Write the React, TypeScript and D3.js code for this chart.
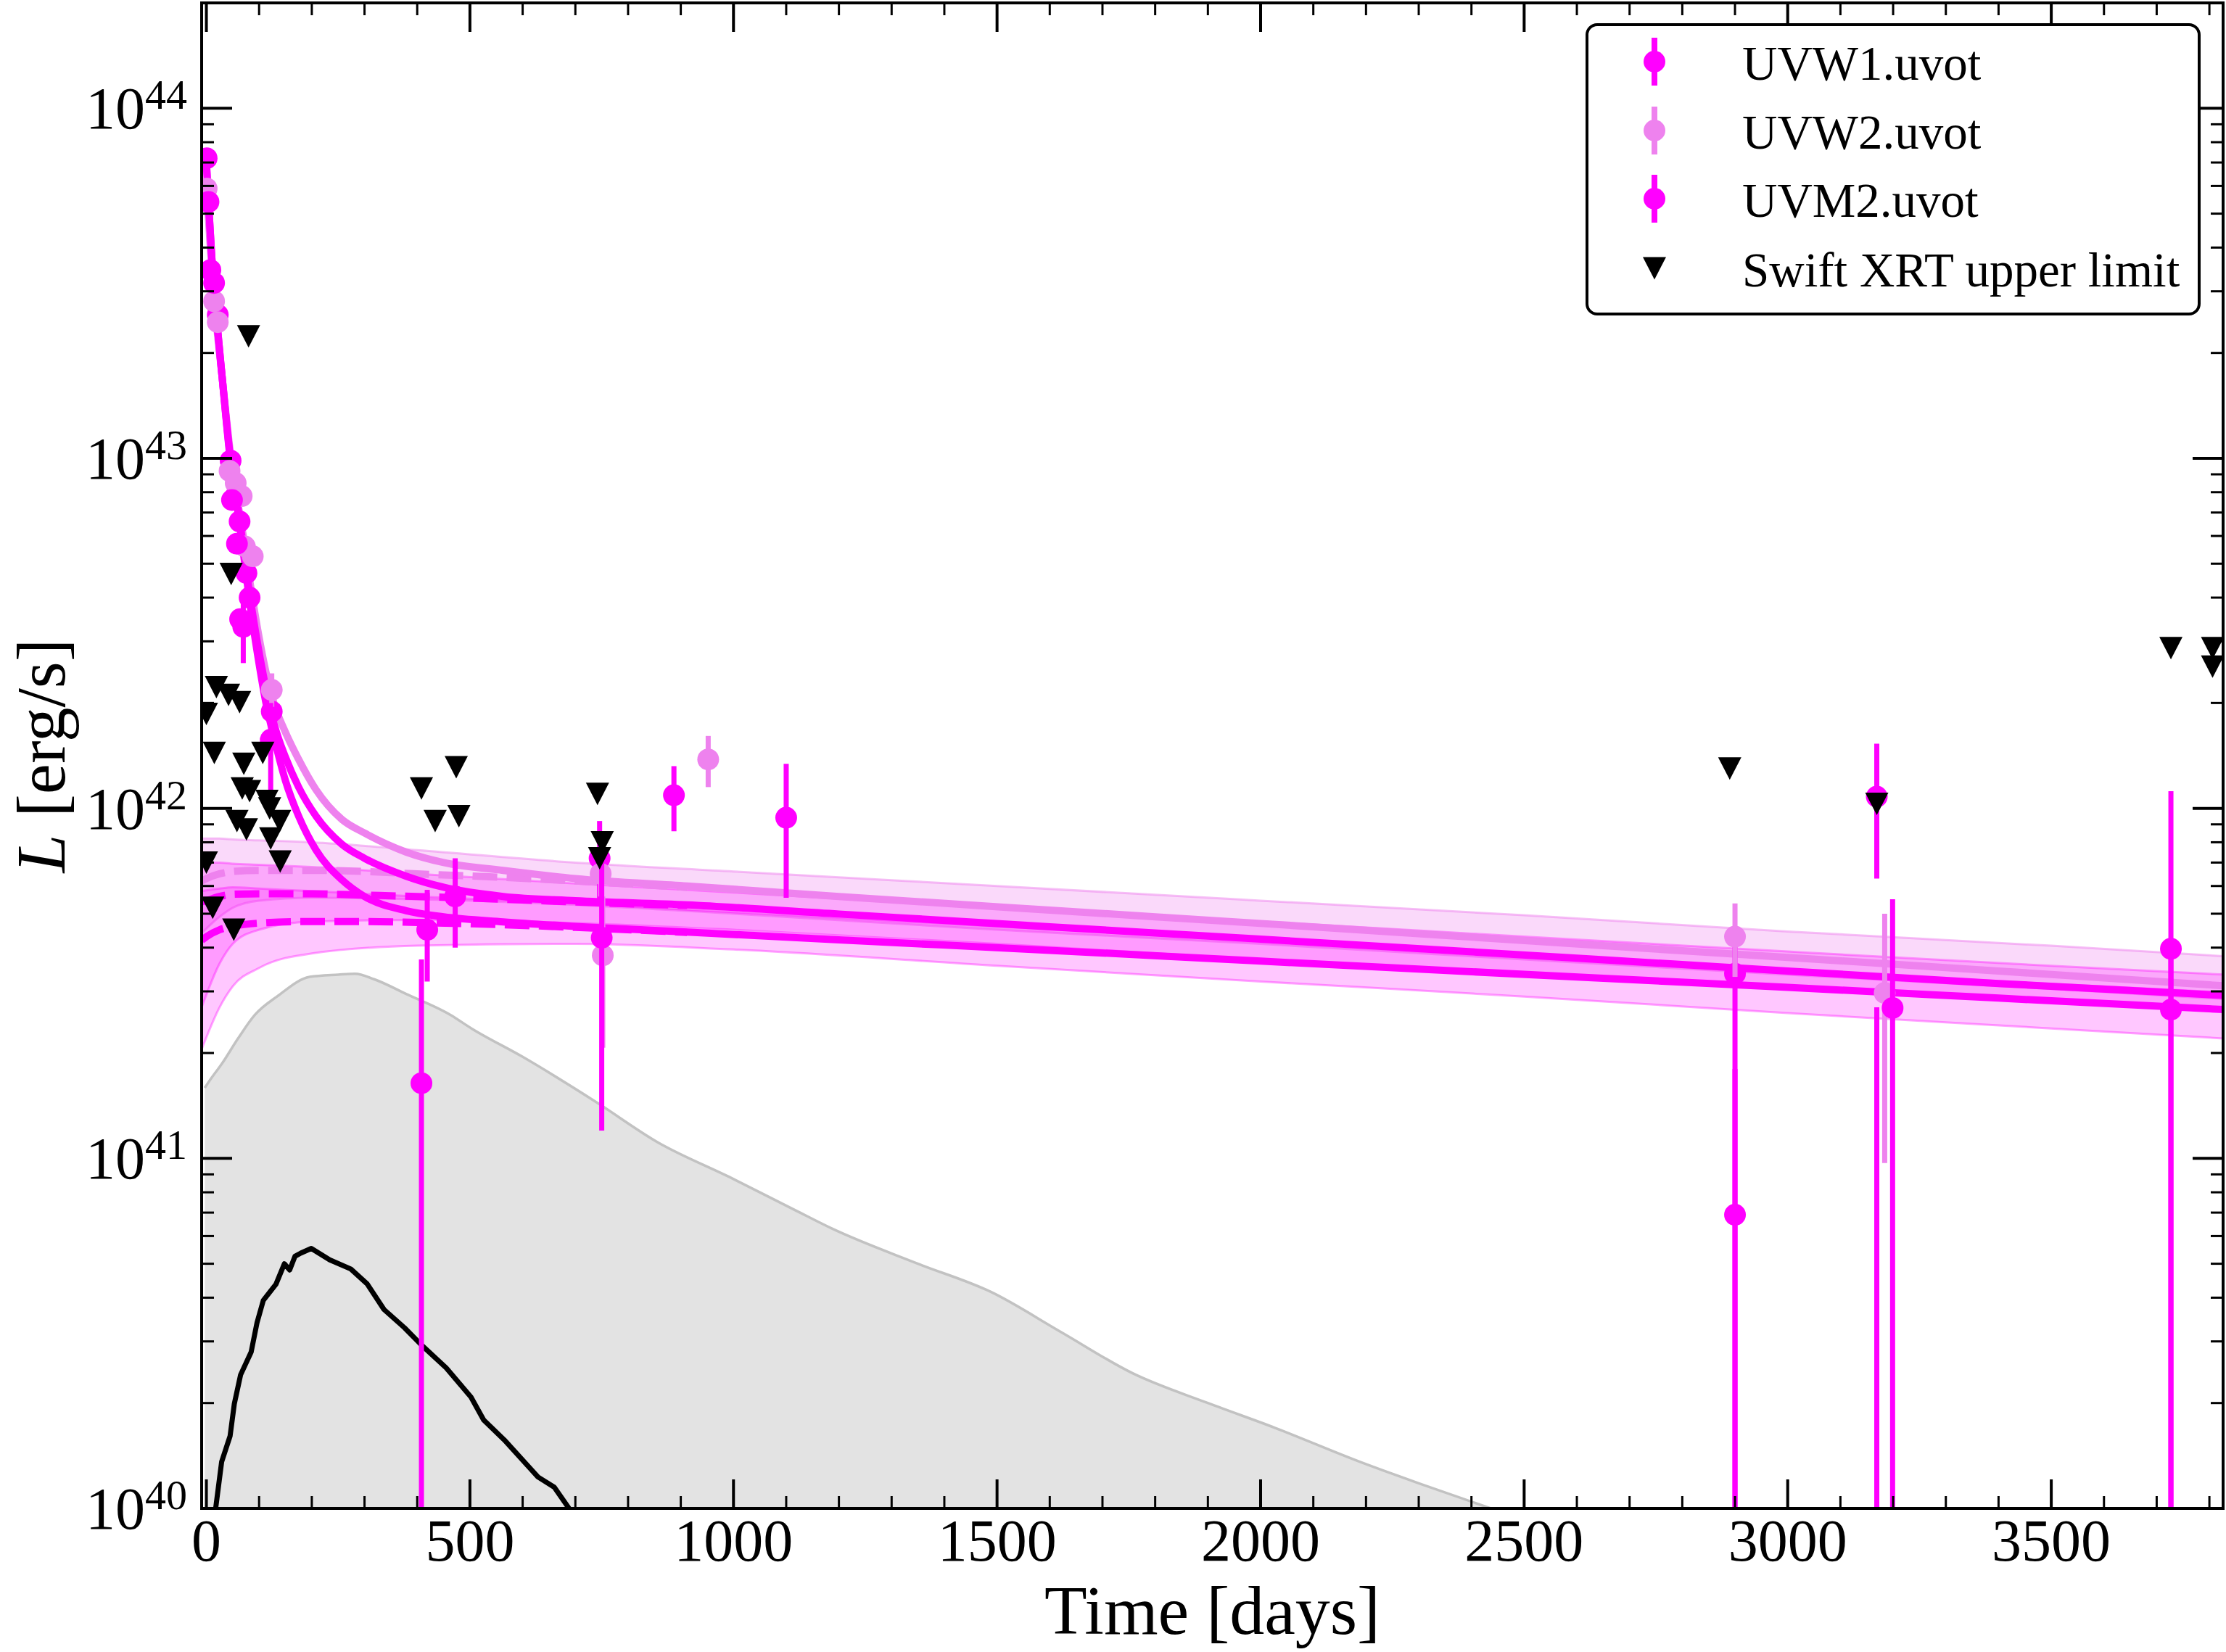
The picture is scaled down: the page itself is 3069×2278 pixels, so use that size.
import React from 'react';
import * as d3 from 'd3';

// ---------------- data ----------------
const xTickValues = [0, 500, 1000, 1500, 2000, 2500, 3000, 3500];
const yTickExponents = [40, 41, 42, 43, 44];

// UVW1 (magenta)
const uvw1T = [0.5, 7.6, 21.6, 46, 55.6, 63, 76, 70, 124, 408, 472, 746, 887, 1100, 2900, 3169, 3727];
const uvw1L = [7.2e43, 3.45e43, 2.57e43, 9.85e42, 7.8e42, 6.6e42, 4.7e42, 3.3e42, 1.89e42, 1.64e41, 5.6e41, 7.2e41, 1.09e42, 9.4e41, 3.37e41, 1.08e42, 3.97e41];
const uvw1Lo = [6.9e43, 3.3e43, 2.45e43, 9.4e42, 7.4e42, 6.3e42, 4.5e42, 2.6e42, 1.8e42, 1e39, 4.0e41, 5.3e41, 8.6e41, 5.55e41, 1e39, 6.3e41, 1e39];
const uvw1Hi = [7.5e43, 3.6e43, 2.7e43, 1.03e43, 8.2e42, 6.9e42, 4.9e42, 4.0e42, 1.98e42, 3.7e41, 7.2e41, 9.2e41, 1.32e42, 1.34e42, 4.6e41, 1.53e42, 1.12e42];

// UVW2 (violet)
const uvw2T = [0.5, 14.6, 21.6, 44, 55.6, 67, 73, 88, 124, 748, 752, 952, 2900, 3184];
const uvw2L = [5.9e43, 2.81e43, 2.45e43, 9.2e42, 8.5e42, 7.8e42, 5.6e42, 5.25e42, 2.18e42, 6.5e41, 3.8e41, 1.38e42, 4.3e41, 2.97e41];
const uvw2Lo = [5.6e43, 2.7e43, 2.35e43, 8.8e42, 8.1e42, 7.4e42, 5.3e42, 5.0e42, 1.95e42, 5.6e41, 2.07e41, 1.15e42, 3.3e41, 9.7e40];
const uvw2Hi = [6.2e43, 2.95e43, 2.55e43, 9.6e42, 8.9e42, 8.2e42, 5.9e42, 5.5e42, 2.43e42, 7.5e41, 5.6e41, 1.61e42, 5.35e41, 5.0e41];

// UVM2 (magenta)
const uvm2T = [4, 14.6, 48.6, 58, 64, 82, 122, 419, 750, 2900, 3169, 3199, 3727];
const uvm2L = [5.4e43, 3.17e43, 7.6e42, 5.7e42, 3.47e42, 4.0e42, 1.57e42, 4.5e41, 4.27e41, 6.9e40, 5e39, 2.69e41, 2.66e41];
const uvm2Lo = [5.2e43, 3.05e43, 7.3e42, 5.5e42, 3.3e42, 3.8e42, 1.13e42, 3.2e41, 1.2e41, 1e39, 1e39, 1e39, 1e39];
const uvm2Hi = [5.6e43, 3.3e43, 7.9e42, 5.9e42, 3.65e42, 4.2e42, 2.0e42, 5.85e41, 7.4e41, 1.8e41, 2.7e41, 5.5e41, 4.0e41];

// Swift XRT upper limits
const xrtT = [80, 47, 19, 42, 63, 0, 15, 107, 71, 68, 82, 115, 120, 58, 76, 139, 122, 140, 0, 12, 52, 408, 474, 434, 479, 742, 751, 746, 2890, 3169, 3727, 3806, 3806];
const xrtL = [2.23e43, 4.67e42, 2.22e42, 2.11e42, 2.01e42, 1.86e42, 1.44e42, 1.44e42, 1.34e42, 1.14e42, 1.12e42, 1.05e42, 1.0e42, 9.2e41, 8.7e41, 9.2e41, 8.2e41, 7.05e41, 7.0e41, 5.2e41, 4.5e41, 1.14e42, 1.31e42, 9.2e41, 9.5e41, 1.1e42, 8.0e41, 7.2e41, 1.3e42, 1.03e42, 2.87e42, 2.87e42, 2.54e42];

// model: total (solid)
const modelT = [0, 5, 10, 20, 30, 45, 60, 70, 82, 98, 113, 128, 150, 175, 208, 257, 300, 379, 450, 563, 700, 912, 1200, 1600, 2000, 2629, 3000, 3400, 3830];
const uvw2Total = [6.0e43, 4.6e43, 3.5e43, 2.35e43, 1.7e43, 1.05e43, 7.4e42, 6.0e42, 4.5e42, 3.2e42, 2.45e42, 2.0e42, 1.65e42, 1.38e42, 1.13e42, 9.3e41, 8.5e41, 7.5e41, 7.0e41, 6.65e41, 6.3e41, 6.0e41, 5.6e41, 5.12e41, 4.69e41, 4.07e41, 3.75e41, 3.43e41, 3.11e41];
const uvw1Total = [7.0e43, 5.1e43, 3.8e43, 2.45e43, 1.7e43, 1.02e43, 7.2e42, 5.6e42, 4.1e42, 2.9e42, 2.2e42, 1.75e42, 1.4e42, 1.15e42, 9.5e41, 7.9e41, 7.2e41, 6.4e41, 5.95e41, 5.6e41, 5.45e41, 5.3e41, 4.99e41, 4.59e41, 4.23e41, 3.71e41, 3.43e41, 3.16e41, 2.92e41];
const uvm2Total = [7.0e43, 5.1e43, 3.8e43, 2.45e43, 1.7e43, 1.0e43, 7.0e42, 5.4e42, 3.9e42, 2.7e42, 2.0e42, 1.6e42, 1.2e42, 9.5e41, 7.6e41, 6.25e41, 5.6e41, 5.1e41, 4.9e41, 4.74e41, 4.6e41, 4.43e41, 4.21e41, 3.93e41, 3.66e41, 3.28e41, 3.08e41, 2.87e41, 2.66e41];

// model: plateau component (dashed)
const plateauT = [-9, 0, 25, 50, 100, 200, 300, 400, 563, 700, 912];
const uvw2Plateau = [6.2e41, 6.3e41, 6.5e41, 6.6e41, 6.65e41, 6.65e41, 6.6e41, 6.5e41, 6.35e41, 6.2e41, 5.95e41];
const uvw1Plateau = [5.4e41, 5.45e41, 5.6e41, 5.68e41, 5.7e41, 5.7e41, 5.65e41, 5.6e41, 5.5e41, 5.4e41, 5.28e41];
const uvm2Plateau = [4.2e41, 4.3e41, 4.5e41, 4.6e41, 4.7e41, 4.75e41, 4.75e41, 4.72e41, 4.65e41, 4.57e41, 4.42e41];

// uncertainty bands
const bandT = [-9, 25, 50, 100, 200, 400, 700, 1000, 1500, 2000, 2500, 3000, 3500, 3830];
const uvw2BandHi = [8.2e41, 8.2e41, 8.15e41, 8.1e41, 8.0e41, 7.6e41, 7.0e41, 6.6e41, 6.0e41, 5.45e41, 4.95e41, 4.45e41, 4.05e41, 3.78e41];
const uvw2BandLo = [4.4e41, 4.9e41, 5.2e41, 5.45e41, 5.55e41, 5.5e41, 5.3e41, 5.0e41, 4.5e41, 4.1e41, 3.7e41, 3.35e41, 3.05e41, 2.85e41];
const uvw1BandHi = [7.0e41, 7.0e41, 6.95e41, 6.9e41, 6.8e41, 6.5e41, 6.1e41, 5.75e41, 5.2e41, 4.75e41, 4.3e41, 3.9e41, 3.55e41, 3.35e41];
const uvw1BandLo = [2.7e41, 3.6e41, 4.1e41, 4.5e41, 4.75e41, 4.8e41, 4.7e41, 4.5e41, 4.1e41, 3.7e41, 3.35e41, 3.05e41, 2.8e41, 2.65e41];
const uvm2BandHi = [5.8e41, 5.9e41, 5.95e41, 5.9e41, 5.8e41, 5.6e41, 5.35e41, 5.05e41, 4.6e41, 4.2e41, 3.8e41, 3.45e41, 3.15e41, 2.98e41];
const uvm2BandLo = [2.05e41, 2.7e41, 3.1e41, 3.5e41, 3.85e41, 4.05e41, 4.1e41, 3.95e41, 3.55e41, 3.2e41, 2.9e41, 2.6e41, 2.35e41, 2.2e41];

// grey shaded area
const greyT = [-3, 10, 29, 60, 92, 134, 196, 250, 282, 318, 379, 463, 503, 600, 739, 857, 992, 1118, 1187, 1350, 1489, 1620, 1758, 1900, 2027, 2188, 2300, 2437];
const greyL = [1.59e41, 1.7e41, 1.86e41, 2.2e41, 2.57e41, 2.9e41, 3.3e41, 3.35e41, 3.37e41, 3.25e41, 2.95e41, 2.57e41, 2.35e41, 1.95e41, 1.45e41, 1.11e41, 8.85e40, 7.1e40, 6.3e40, 5.0e40, 4.15e40, 3.2e40, 2.43e40, 2.0e40, 1.7e40, 1.36e40, 1.18e40, 1.0e40];

// black curve
const blackT = [17.6, 29, 45, 53, 65, 85, 96, 108, 132, 148, 158, 168, 179, 199, 234, 274, 305, 337, 376, 408, 455, 502, 526, 565, 629, 660, 688];
const blackL = [1.0e40, 1.36e40, 1.61e40, 1.99e40, 2.41e40, 2.8e40, 3.39e40, 3.93e40, 4.37e40, 5.0e40, 4.8e40, 5.25e40, 5.36e40, 5.53e40, 5.13e40, 4.83e40, 4.38e40, 3.7e40, 3.28e40, 2.93e40, 2.52e40, 2.08e40, 1.79e40, 1.57e40, 1.23e40, 1.15e40, 1.0e40];

const legendLabels = ['UVW1.uvot', 'UVW2.uvot', 'UVM2.uvot', 'Swift XRT upper limit'];

// ---------------- styling ----------------
const MAG = '#FF00FF';
const VIO = '#EE82EE';
const FONT = '"Liberation Serif", "Times New Roman", Times, serif';

const W = 3069, H = 2278;
const L = 278, R = 3065, T = 4, B = 2080;

const x = d3.scaleLinear().domain([-9, 3826]).range([L, R]);
const y = d3.scaleLog().domain([1e40, 2e44]).range([B, T]);

const line = (ts: number[], vs: number[], curve: d3.CurveFactory = d3.curveMonotoneX) =>
  d3.line<number>().x((_, i) => x(ts[i])).y((v) => y(v)).curve(curve)(vs) || '';
const area = (ts: number[], lo: number[], hi: number[]) =>
  d3.area<number>().x((_, i) => x(ts[i])).y0((_, i) => y(lo[i])).y1((v) => y(v)).curve(d3.curveMonotoneX)(hi) || '';
const areaToBase = (ts: number[], vs: number[]) =>
  d3.area<number>().x((_, i) => x(ts[i])).y0(y(1e40) + 10).y1((v) => y(v)).curve(d3.curveMonotoneX)(vs) || '';

function Points({ t, v, lo, hi, color }: { t: number[]; v: number[]; lo: number[]; hi: number[]; color: string }) {
  return (
    <g>
      {t.map((ti, i) => (
        <line key={'e' + i} x1={x(ti)} x2={x(ti)} y1={y(lo[i])} y2={y(hi[i])} stroke={color} strokeWidth={7} />
      ))}
      {t.map((ti, i) => (
        <circle key={'c' + i} cx={x(ti)} cy={y(v[i])} r={15} fill={color} />
      ))}
    </g>
  );
}

const tri = (cx: number, cy: number, w = 32, h = 31) =>
  `M${cx - w / 2},${cy - h / 2}L${cx + w / 2},${cy - h / 2}L${cx},${cy + h / 2}Z`;

export default function App() {
  const minorX: number[] = [];
  for (let v = 0; v <= 3800; v += 100) if (v % 500 !== 0) minorX.push(v);
  const minorY: number[] = [];
  for (let e = 40; e < 45; e++) for (let k = 2; k <= 9; k++) { const v = k * Math.pow(10, e); if (v <= 2e44) minorY.push(v); }

  const legendRows = [85, 180, 274, 370];

  return (
    <svg width={W} height={H} style={{ position: 'absolute', left: 0, top: 0, background: '#fff' }} fontFamily={FONT}>
      <defs>
        <clipPath id="plot">
          <rect x={L} y={T} width={R - L} height={B - T} />
        </clipPath>
      </defs>
      <rect x={0} y={0} width={W} height={H} fill="#fff" />
      <g clipPath="url(#plot)">
        {/* grey area */}
        <path d={areaToBase(greyT, greyL)} fill="#e3e3e3" stroke="none" />
        <path d={line(greyT, greyL)} fill="none" stroke="#c2c2c2" strokeWidth={3.5} />
        {/* black curve */}
        <path d={line(blackT, blackL, d3.curveLinear)} fill="none" stroke="#000" strokeWidth={7} strokeLinejoin="round" />
        {/* bands */}
        <path d={area(bandT, uvw2BandLo, uvw2BandHi)} fill={VIO} fillOpacity={0.3} stroke={VIO} strokeOpacity={0.5} strokeWidth={3} />
        <path d={area(bandT, uvw1BandLo, uvw1BandHi)} fill={MAG} fillOpacity={0.22} stroke={MAG} strokeOpacity={0.35} strokeWidth={3} />
        <path d={area(bandT, uvm2BandLo, uvm2BandHi)} fill={MAG} fillOpacity={0.22} stroke={MAG} strokeOpacity={0.35} strokeWidth={3} />
        {/* dashed plateau components */}
        <path d={line(plateauT, uvw2Plateau)} fill="none" stroke={VIO} strokeWidth={10} strokeDasharray="34,13" />
        <path d={line(plateauT, uvw1Plateau)} fill="none" stroke={MAG} strokeWidth={10} strokeDasharray="34,13" />
        <path d={line(plateauT, uvm2Plateau)} fill="none" stroke={MAG} strokeWidth={10} strokeDasharray="34,13" />
        {/* total model */}
        <path d={line(modelT, uvw2Total)} fill="none" stroke={VIO} strokeWidth={10} />
        <path d={line(modelT, uvw1Total)} fill="none" stroke={MAG} strokeWidth={10} />
        <path d={line(modelT, uvm2Total)} fill="none" stroke={MAG} strokeWidth={10} />
        {/* data */}
        <Points t={uvw1T} v={uvw1L} lo={uvw1Lo} hi={uvw1Hi} color={MAG} />
        <Points t={uvw2T} v={uvw2L} lo={uvw2Lo} hi={uvw2Hi} color={VIO} />
        <Points t={uvm2T} v={uvm2L} lo={uvm2Lo} hi={uvm2Hi} color={MAG} />
        {xrtT.map((t, i) => (
          <path key={'x' + i} d={tri(x(t), y(xrtL[i]))} fill="#000" />
        ))}
      </g>

      {/* frame */}
      <rect x={L} y={T} width={R - L} height={B - T} fill="none" stroke="#000" strokeWidth={4} />

      {/* x ticks */}
      {xTickValues.map((v) => (
        <g key={'xt' + v}>
          <line x1={x(v)} x2={x(v)} y1={B} y2={B - 40} stroke="#000" strokeWidth={4} />
          <line x1={x(v)} x2={x(v)} y1={T} y2={T + 40} stroke="#000" strokeWidth={4} />
          <text x={x(v)} y={2152} fontSize={82} textAnchor="middle">{v}</text>
        </g>
      ))}
      {minorX.map((v) => (
        <g key={'xm' + v}>
          <line x1={x(v)} x2={x(v)} y1={B} y2={B - 17} stroke="#000" strokeWidth={3} />
          <line x1={x(v)} x2={x(v)} y1={T} y2={T + 17} stroke="#000" strokeWidth={3} />
        </g>
      ))}

      {/* y ticks */}
      {yTickExponents.map((e) => {
        const yy = y(Math.pow(10, e));
        return (
          <g key={'yt' + e}>
            <line x1={L} x2={L + 42} y1={yy} y2={yy} stroke="#000" strokeWidth={4} />
            <line x1={R} x2={R - 42} y1={yy} y2={yy} stroke="#000" strokeWidth={4} />
            <text x={258} y={yy + 28} fontSize={82} textAnchor="end">
              <tspan>10</tspan>
              <tspan fontSize={58} dy={-27}>{e}</tspan>
            </text>
          </g>
        );
      })}
      {minorY.map((v, i) => (
        <g key={'ym' + i}>
          <line x1={L} x2={L + 17} y1={y(v)} y2={y(v)} stroke="#000" strokeWidth={3} />
          <line x1={R} x2={R - 17} y1={y(v)} y2={y(v)} stroke="#000" strokeWidth={3} />
        </g>
      ))}

      {/* axis labels */}
      <text x={(L + R) / 2} y={2253} fontSize={96} textAnchor="middle">Time [days]</text>
      <text transform={`translate(89, ${(T + B) / 2}) rotate(-90)`} fontSize={95} textAnchor="middle">
        <tspan fontStyle="italic">L</tspan>
        <tspan> [erg/s]</tspan>
      </text>

      {/* legend */}
      <rect x={2188} y={34} width={844} height={399} rx={14} ry={14} fill="#fff" stroke="#000" strokeWidth={4} />
      {legendLabels.map((lab, i) => {
        const cy = legendRows[i];
        const color = i === 1 ? VIO : MAG;
        return (
          <g key={'lg' + i}>
            {i < 3 ? (
              <g>
                <line x1={2281} x2={2281} y1={cy - 33} y2={cy + 33} stroke={color} strokeWidth={8} />
                <circle cx={2281} cy={cy} r={15} fill={color} />
              </g>
            ) : (
              <path d={tri(2281, cy)} fill="#000" />
            )}
            <text x={2402} y={cy + 25} fontSize={67}>{lab}</text>
          </g>
        );
      })}
    </svg>
  );
}
